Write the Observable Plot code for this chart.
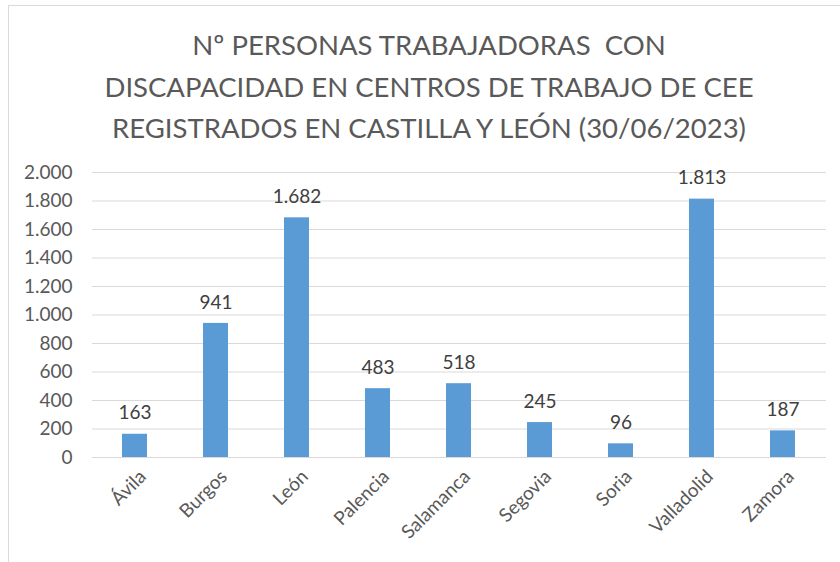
<!DOCTYPE html>
<html>
<head>
<meta charset="utf-8">
<script src="https://cdn.jsdelivr.net/npm/d3@7"></script>
<script src="https://cdn.jsdelivr.net/npm/@observablehq/plot@0.6"></script>
<style>
  html, body { margin: 0; padding: 0; background: #fff; }
  #wrap { position: relative; width: 840px; height: 562px; overflow: hidden; background: #fff; }
  #frame { position: absolute; left: 8px; top: 5px; width: 840px; height: 600px; border-left: 1.5px solid #d9d9d9; border-top: 1.5px solid #d9d9d9; box-sizing: border-box; pointer-events: none; }
  #title { position: absolute; left: 18px; top: 24px; width: 822px; text-align: center; font-family: Lato, sans-serif; font-size: 27.5px; line-height: 41.5px; color: #595959; white-space: nowrap; }
  #chart { position: absolute; left: 0; top: 152px; }
</style>
</head>
<body>
<div id="wrap">
  <div id="title"></div>
  <div id="chart"></div>
  <div id="frame"></div>
</div>
<script>
const titleLines = [
  "Nº PERSONAS TRABAJADORAS  CON",
  "DISCAPACIDAD EN CENTROS DE TRABAJO DE CEE",
  "REGISTRADOS EN CASTILLA Y LEÓN (30/06/2023)"
];
const provinces = ["Ávila", "Burgos", "León", "Palencia", "Salamanca", "Segovia", "Soria", "Valladolid", "Zamora"];
const workers = [163, 941, 1682, 483, 518, 245, 96, 1813, 187];
const yTicks = [0, 200, 400, 600, 800, 1000, 1200, 1400, 1600, 1800, 2000];

document.getElementById("title").innerHTML = titleLines.map(t => t.replace(/ {2}/g, " &nbsp;")).join("<br>");

const data = provinces.map((p, i) => ({province: p, value: workers[i]}));
const fmt = v => d3.format(",")(v).replace(/,/g, ".");

const plot = Plot.plot({
  width: 840,
  height: 410,
  marginTop: 20,
  marginBottom: 105,
  marginLeft: 92,
  marginRight: 14,
  style: {fontFamily: "Lato, sans-serif", background: "transparent"},
  x: {domain: provinces, paddingInner: 0.69, paddingOuter: 0.345, align: 0.5},
  y: {domain: [0, 2000], ticks: yTicks},
  marks: [
    Plot.gridY(yTicks, {stroke: "#d9d9d9", strokeOpacity: 1, strokeWidth: 1.2}),
    Plot.barY(data, {x: "province", y: "value", fill: "#5b9bd5"}),
    Plot.text(data, {x: "province", y: "value", text: d => fmt(d.value), dy: -21, lineAnchor: "middle", fontSize: 19, fill: "#404040"}),
    Plot.axisY(yTicks, {tickSize: 0, tickPadding: 20, tickFormat: fmt, fontSize: 19, color: "#595959", label: null}),
    Plot.axisX({tickSize: 0, tickRotate: -45, tickPadding: 16, fontSize: 19, color: "#595959", label: null, dx: 8})
  ]
});
document.getElementById("chart").appendChild(plot);
</script>
</body>
</html>
